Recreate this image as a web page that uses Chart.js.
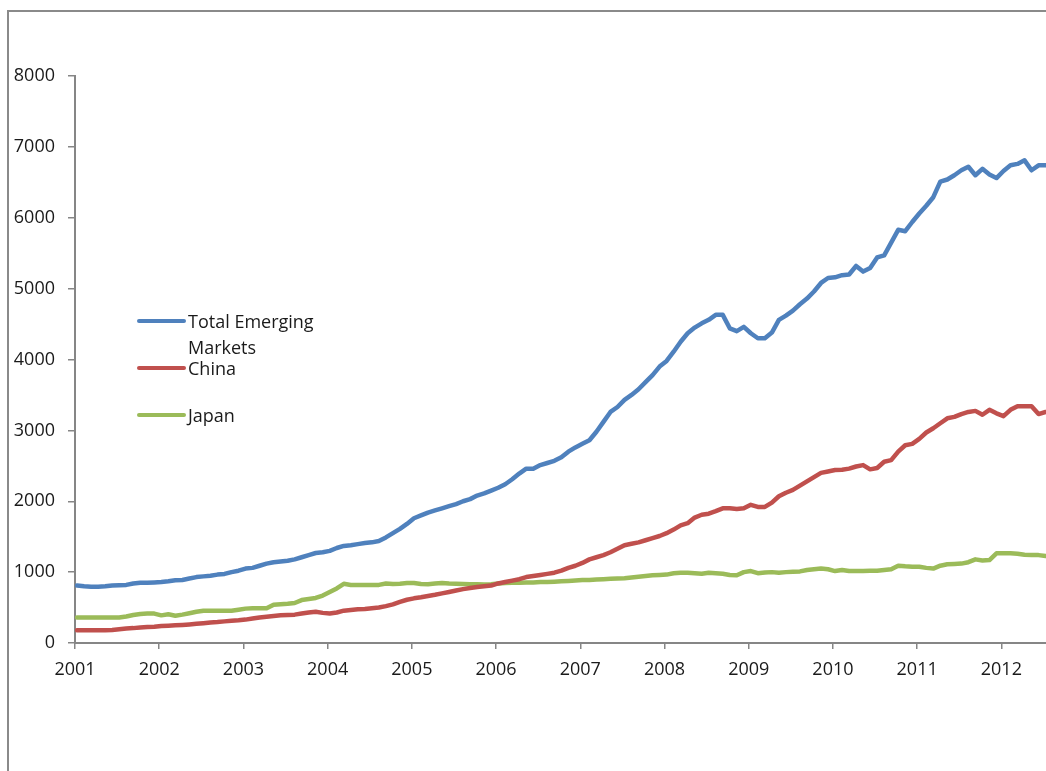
<!DOCTYPE html>
<html>
<head>
<meta charset="utf-8">
<script src="https://cdn.jsdelivr.net/npm/chart.js@4.4.0/dist/chart.umd.min.js"></script>
<style>
  html, body { margin: 0; padding: 0; background: #fff; overflow: hidden; }
  #wrap { position: relative; width: 1046px; height: 771px; }
  #frame { position: absolute; left: 7px; top: 10px; width: 1100px; height: 800px;
           border-left: 2px solid #8a8a8a; border-top: 2px solid #8a8a8a; }
  #chart { position: absolute; left: 0; top: 0; }
  .leg { position: absolute; font-family: 'Open Sans', sans-serif; font-size: 18px; color: #1a1a1a; line-height: 26px; }
  .leg i { position: absolute; left: -51px; top: 11px; width: 49px; height: 4px; border-radius: 2px; }
</style>
</head>
<body>
<div id="wrap">
  <div id="frame"></div>
  <canvas id="chart" width="1046" height="771"></canvas>
  <div class="leg" style="left:188px; top:308px; width:140px;"><i style="background:#4F81BD"></i>Total Emerging Markets</div>
  <div class="leg" style="left:188px; top:355px;"><i style="background:#C0504D"></i>China</div>
  <div class="leg" style="left:188px; top:402px;"><i style="background:#9BBB59"></i>Japan</div>
</div>
<script>
// monthly values, Jan 2001 onwards
const startYear = 2001;
const yearTicks = ['2001', '2002', '2003', '2004', '2005', '2006', '2007', '2008', '2009', '2010', '2011', '2012'];
const valueTicks = [0, 1000, 2000, 3000, 4000, 5000, 6000, 7000, 8000];

const emerging = [
  810, 800, 795, 795, 800, 810, 815, 820, 840, 850, 850, 855,
  860, 870, 885, 890, 910, 930, 940, 950, 965, 975, 1000, 1020,
  1050, 1060, 1090, 1120, 1140, 1150, 1160, 1180, 1210, 1240, 1270, 1280,
  1300, 1340, 1370, 1380, 1395, 1410, 1420, 1440, 1490, 1550, 1610, 1680,
  1760, 1800, 1840, 1870, 1900, 1930, 1960, 2000, 2030, 2080, 2110, 2150,
  2190, 2240, 2310, 2390, 2460, 2460, 2510, 2540, 2570, 2620, 2700, 2760,
  2810, 2860, 2980, 3120, 3260, 3330, 3430, 3500, 3580, 3680, 3780, 3900,
  3980, 4110, 4250, 4370, 4450, 4510, 4560, 4630, 4630, 4440, 4400, 4460,
  4370, 4300, 4300, 4380, 4560, 4620, 4690, 4780, 4860, 4960, 5080, 5150,
  5160, 5190, 5200, 5320, 5240, 5290, 5440, 5470, 5650, 5830, 5810, 5940,
  6060, 6170, 6290, 6510, 6540, 6600, 6670, 6720, 6600, 6690, 6610, 6560,
  6660, 6740, 6760, 6810, 6670, 6740, 6740
];

const china = [
  180, 180, 180, 180, 180, 185, 195, 205, 210, 220, 225, 230,
  240, 245, 250, 255, 262, 270, 280, 290, 296, 305, 315, 320,
  330, 345, 360, 370, 380, 390, 395, 400, 415, 430, 442, 425,
  415, 430, 456, 465, 475, 480, 490, 500, 520, 545, 580, 610,
  630, 645, 663, 680, 700, 720, 740, 760, 775, 790, 800, 810,
  840, 860, 880, 900, 930, 945, 960, 975, 992, 1020, 1060, 1090,
  1130, 1180, 1210, 1240, 1280, 1330, 1380, 1400, 1420, 1450, 1480, 1510,
  1550, 1600, 1660, 1690, 1770, 1810, 1825, 1860, 1900, 1900, 1890, 1900,
  1950, 1920, 1920, 1980, 2070, 2120, 2160, 2220, 2280, 2340, 2400, 2420,
  2440, 2445, 2460, 2490, 2510, 2450, 2470, 2557, 2580, 2700, 2790, 2810,
  2880, 2970, 3030, 3100, 3170, 3190, 3230, 3260, 3275, 3220, 3290, 3240,
  3200, 3290, 3340, 3340, 3340, 3230, 3260
];

const japan = [
  360, 360, 360, 360, 360, 360, 360, 375, 395, 410, 415, 415,
  390, 405, 385, 400, 420, 440, 455, 456, 456, 456, 456, 470,
  485, 489, 489, 489, 540, 548, 555, 565, 606, 620, 635, 670,
  720, 770, 835, 818, 818, 818, 818, 820, 840, 832, 835, 845,
  846, 832, 830, 840, 848, 840, 835, 832, 830, 828, 827, 830,
  840, 848, 850, 850, 855, 855, 860, 862, 865, 870, 875, 882,
  888, 888, 895, 900, 905, 910, 915, 925, 935, 945, 955, 960,
  965, 985, 992, 992, 985, 978, 992, 985, 978, 960, 955, 1000,
  1015, 985, 995, 1000, 992, 1000, 1006, 1010, 1030, 1040, 1050, 1040,
  1015, 1030, 1015, 1015, 1015, 1018, 1020, 1030, 1040, 1090, 1082, 1077,
  1077, 1060, 1050, 1091, 1110, 1114, 1120, 1140, 1180, 1165, 1170, 1265,
  1265, 1265, 1260, 1245, 1241, 1240, 1227
];

function toPoints(values) {
  return values.map((v, i) => ({ x: startYear + (i + 0.3) / 12, y: v }));
}

function makeSet(label, values, color) {
  return {
    label: label,
    data: toPoints(values),
    borderColor: color,
    backgroundColor: color,
    borderWidth: 4.5,
    pointRadius: 0,
    tension: 0,
    borderJoinStyle: 'round',
    borderCapStyle: 'round',
    fill: false
  };
}

const axisColor = '#868686';
const fontSpec = { family: "'Open Sans', sans-serif", size: 18 };

new Chart(document.getElementById('chart'), {
  type: 'line',
  data: {
    datasets: [
      makeSet('Total Emerging Markets', emerging, '#4F81BD'),
      makeSet('China', china, '#C0504D'),
      makeSet('Japan', japan, '#9BBB59')
    ]
  },
  options: {
    responsive: false,
    animation: false,
    layout: { padding: { top: 76, left: 0, right: 0, bottom: 0 } },
    plugins: { legend: { display: false }, tooltip: { enabled: false } },
    scales: {
      x: {
        type: 'linear',
        min: 2001,
        max: 2012.53,
        afterFit: s => { s.height = 128; },
        border: { display: true, color: axisColor, width: 2 },
        grid: { drawOnChartArea: false, drawTicks: true, tickLength: 6, color: axisColor, lineWidth: 1.5 },
        ticks: {
          stepSize: 1,
          includeBounds: false,
          autoSkip: false,
          maxRotation: 0,
          padding: 10,
          color: '#1a1a1a',
          font: fontSpec,
          callback: v => yearTicks[Math.round(v) - startYear]
        }
      },
      y: {
        min: 0,
        max: 8000,
        afterFit: s => { s.width = 75; },
        border: { display: true, color: axisColor, width: 2 },
        grid: { drawOnChartArea: false, drawTicks: true, tickLength: 7, color: axisColor, lineWidth: 1.5 },
        ticks: {
          stepSize: 1000,
          padding: 13,
          color: '#1a1a1a',
          font: fontSpec,
          callback: v => valueTicks.includes(v) ? String(v) : ''
        }
      }
    }
  }
});
</script>
</body>
</html>
